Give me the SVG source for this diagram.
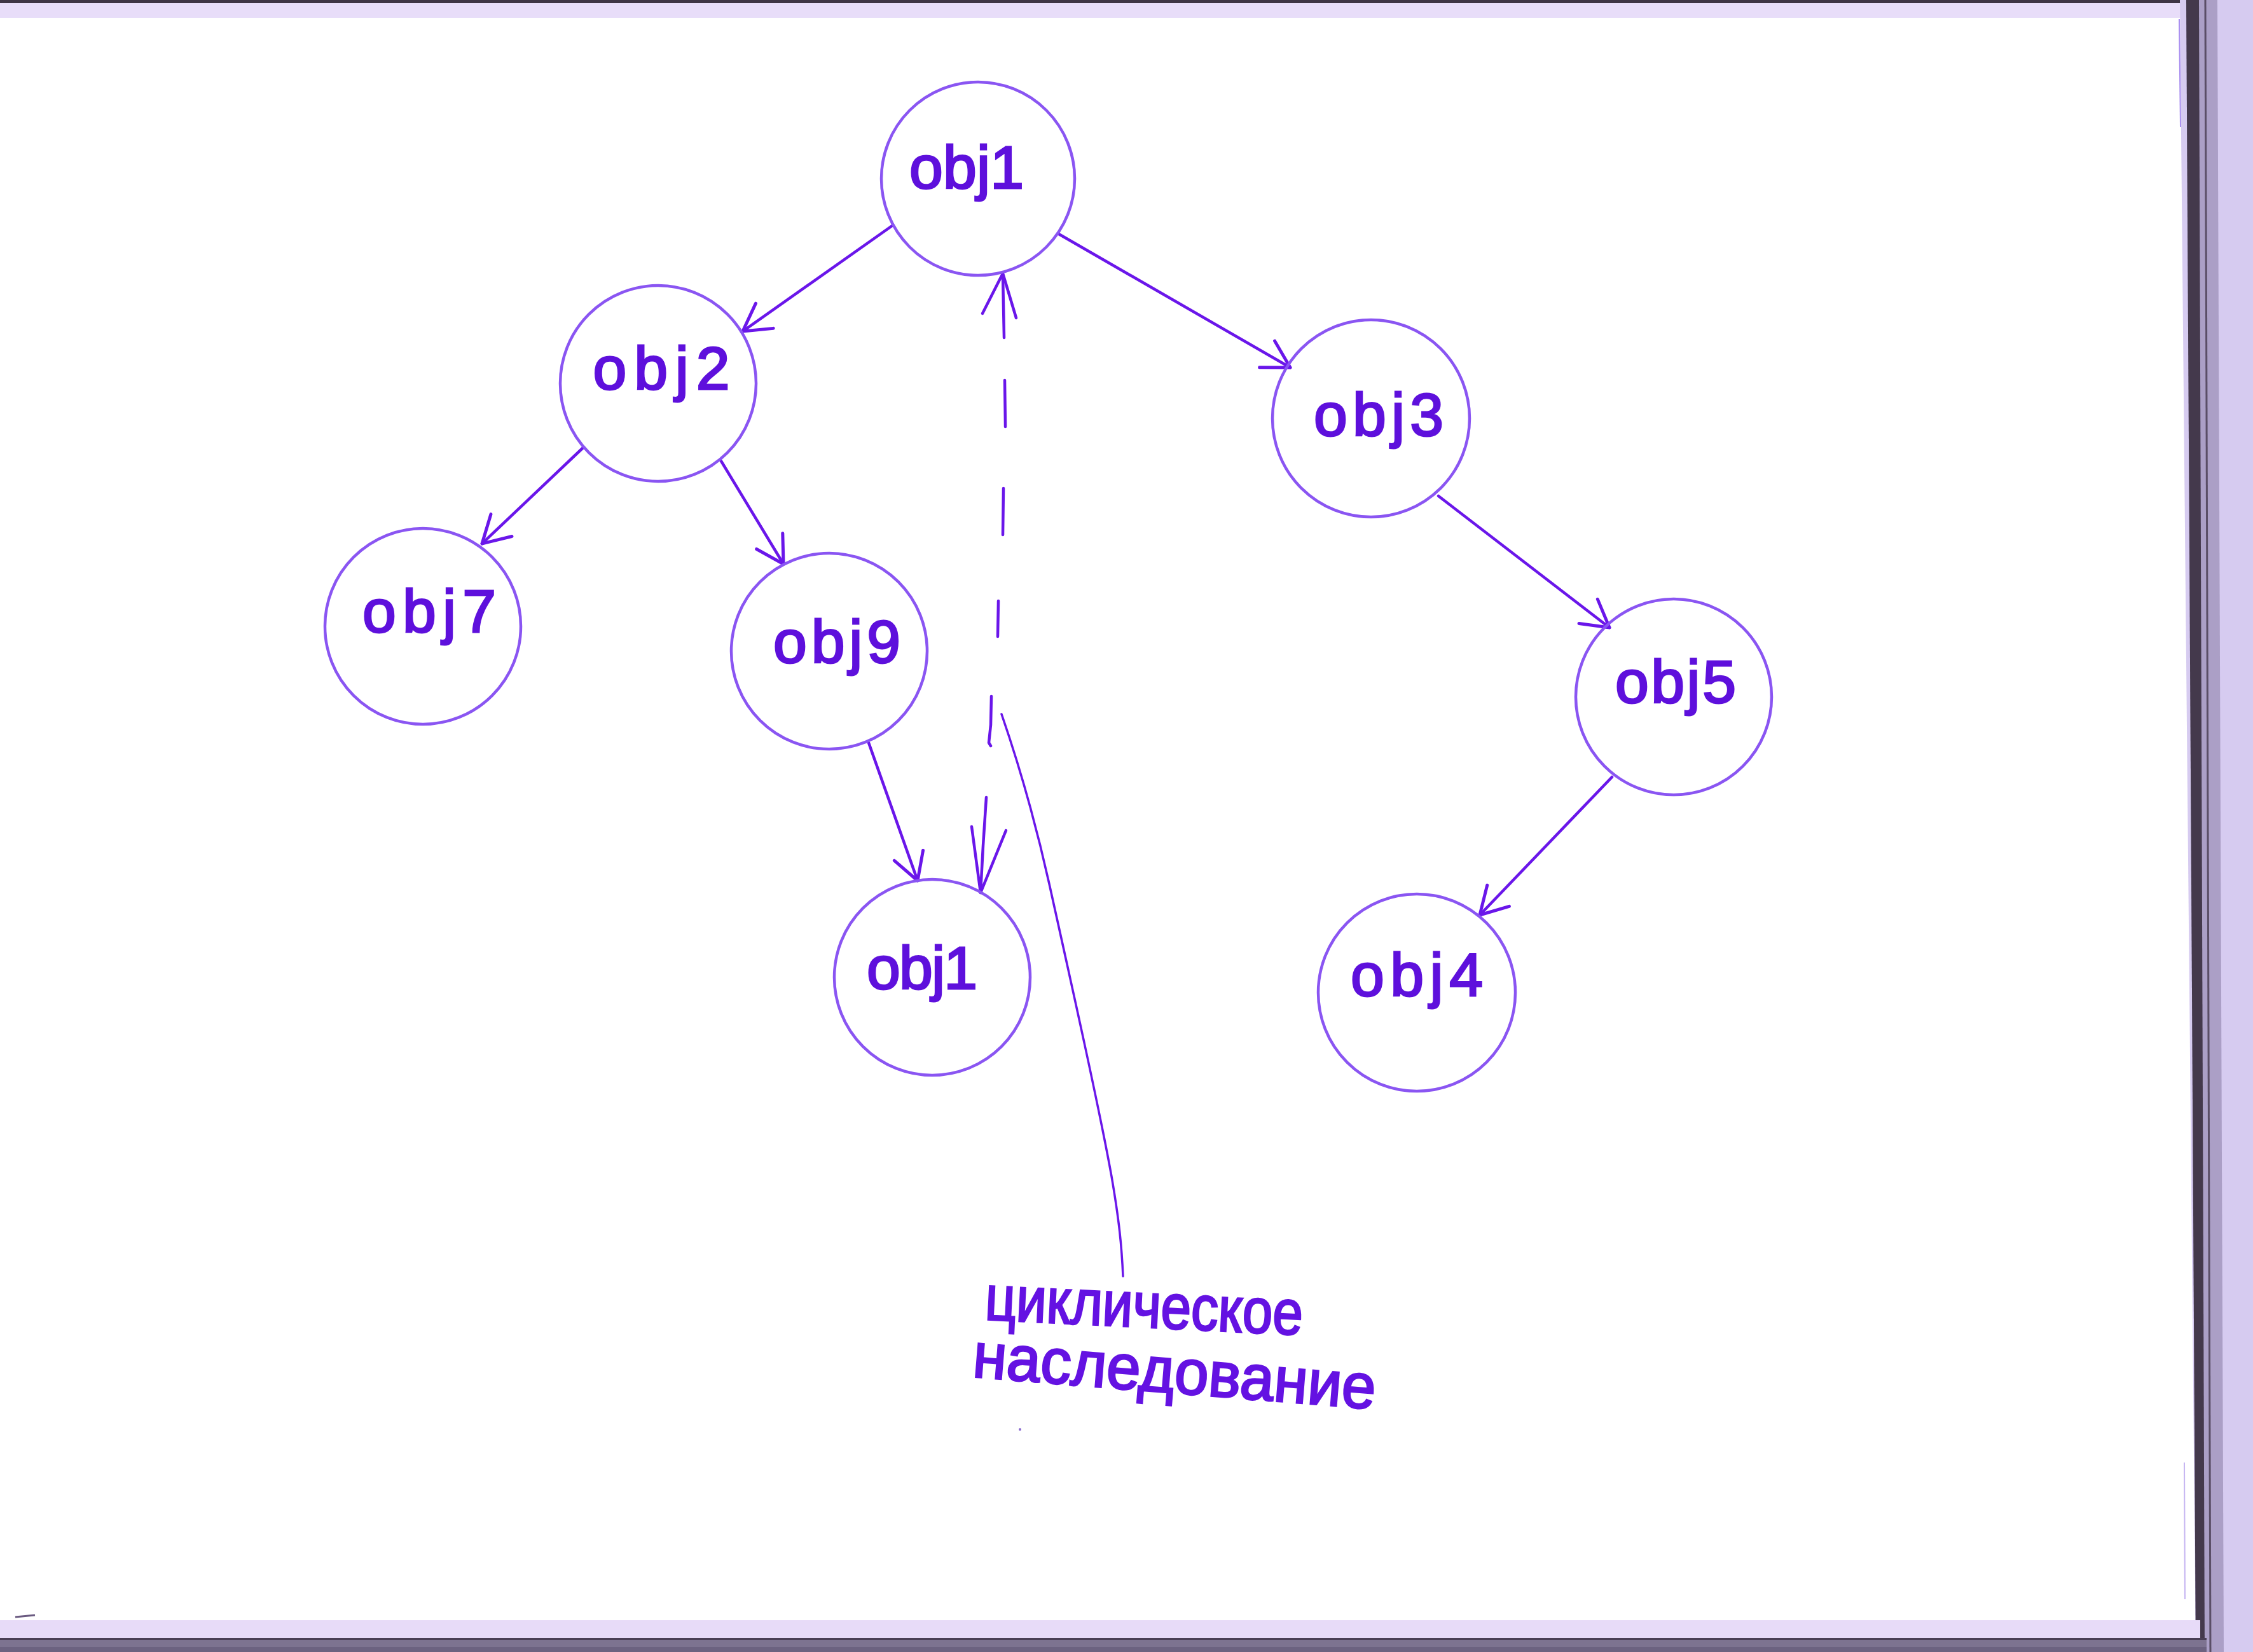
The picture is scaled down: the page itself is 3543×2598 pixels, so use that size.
<svg xmlns="http://www.w3.org/2000/svg" width="3543" height="2598" viewBox="0 0 3543 2598">
<style>
.node circle{fill:none;stroke:#8a55f2;stroke-width:4.5}
.node text{font-family:"Liberation Sans","DejaVu Sans",sans-serif;font-size:95px;fill:#5e10dc;stroke:#5e10dc;stroke-width:3;text-anchor:middle}
.edge{fill:none;stroke:#6a16ea;stroke-width:4.5;stroke-linecap:round;stroke-linejoin:round}
.note{font-family:"Liberation Sans","DejaVu Sans",sans-serif;font-size:100px;fill:#6412e2;stroke:#6412e2;stroke-width:3}
</style>
<defs>
<marker id="arr" markerUnits="userSpaceOnUse" markerWidth="70" markerHeight="70" viewBox="-60 -35 70 70" refX="0" refY="0" orient="auto" overflow="visible">
<path d="M -42 -24 L 0 0 L -42 24" fill="none" stroke="#6a16ea" stroke-width="5" stroke-linecap="round" stroke-linejoin="round"/>
</marker>
</defs>
<g id="background">
<rect x="0" y="0" width="3543" height="2598" fill="#ffffff"/>
<rect x="0" y="0" width="3543" height="28" fill="#e8ddf9"/>
<rect x="0" y="0" width="3543" height="5" fill="#3f3545"/>
<polygon points="3428,0 3543,0 3543,2598 3453,2598" fill="#d6cbf0"/>
<polygon points="3438,0 3487,0 3497,2598 3453,2598" fill="#ab9fc6"/>
<polygon points="3438,0 3458,0 3467,2598 3453,2598" fill="#44394c"/>
<line x1="3468" y1="0" x2="3476" y2="2598" stroke="#5a4e66" stroke-width="3"/>
<rect x="0" y="2548" width="3460" height="30" fill="#e7dbf8"/>
<rect x="0" y="2576" width="3470" height="22" fill="#7d7390"/>
<rect x="0" y="2576" width="3470" height="3" fill="#4a3f55"/>
<rect x="0" y="2590" width="3470" height="8" fill="#6c6280"/>
<line x1="3427" y1="30" x2="3429" y2="200" stroke="#a98ef0" stroke-width="2"/>
<line x1="3435" y1="2300" x2="3436" y2="2515" stroke="#c6b6f2" stroke-width="2"/>
<line x1="24" y1="2543" x2="55" y2="2540" stroke="#6a5a80" stroke-width="3"/>
</g>
<g id="connectors">
<path class="edge" d="M1403,355 L1168,521" marker-end="url(#arr)"/>
<path class="edge" d="M1665,368 L2029,578" marker-end="url(#arr)"/>
<path class="edge" d="M917,704 L758,855" marker-end="url(#arr)"/>
<path class="edge" d="M1134,725 L1232,887" marker-end="url(#arr)"/>
<path class="edge" d="M2262,780 L2531,987" marker-end="url(#arr)"/>
<path class="edge" d="M1366,1168 L1443,1385" marker-end="url(#arr)"/>
<path class="edge" d="M2535,1222 L2327,1439" marker-end="url(#arr)"/>
<g id="cyclic-link">
<path class="edge" d="M1579,531 L1577,432"/>
<path class="edge" d="M1545,493 L1577,430 L1598,500"/>
<path class="edge" d="M1580,598 L1581,671 M1578,768 L1577,841 M1570,945 L1569,1001 M1559,1095 L1558,1140 L1555,1168 L1558,1173 M1551,1254 L1546,1330 L1542,1404"/>
<path class="edge" d="M1528,1300 L1542,1404 L1582,1306"/>
<path class="edge" style="stroke-width:3.5" d="M1575,1123 C1605,1210 1630,1300 1650,1390 C1690,1570 1730,1750 1748,1850 C1760,1920 1764,1960 1766,2007"/>
</g>
</g>
<g id="node-obj1-top" class="node">
<circle cx="1538" cy="281" r="152"/>
<text x="1520" y="296" textLength="180" lengthAdjust="spacing">obj1</text>
</g>
<g id="node-obj2" class="node">
<circle cx="1035" cy="603" r="154"/>
<text x="1040" y="612" textLength="215" lengthAdjust="spacing">obj2</text>
</g>
<g id="node-obj3" class="node">
<circle cx="2156" cy="658" r="155"/>
<text x="2168" y="685" textLength="204" lengthAdjust="spacing">obj3</text>
</g>
<g id="node-obj7" class="node">
<circle cx="665" cy="985" r="154"/>
<text x="675" y="994" textLength="210" lengthAdjust="spacing">obj7</text>
</g>
<g id="node-obj9" class="node">
<circle cx="1304" cy="1024" r="154"/>
<text x="1316" y="1042" textLength="200" lengthAdjust="spacing">obj9</text>
</g>
<g id="node-obj5" class="node">
<circle cx="2632" cy="1096" r="154"/>
<text x="2635" y="1105" textLength="190" lengthAdjust="spacing">obj5</text>
</g>
<g id="node-obj1-bottom" class="node">
<circle cx="1466" cy="1537" r="154"/>
<text x="1450" y="1555" textLength="174" lengthAdjust="spacing">obj1</text>
</g>
<g id="node-obj4" class="node">
<circle cx="2228" cy="1561" r="155"/>
<text x="2228" y="1566" textLength="208" lengthAdjust="spacing">obj4</text>
</g>
<g id="annotation">
<text class="note" transform="rotate(2.8 1548 2075)" x="1548" y="2075" textLength="500" lengthAdjust="spacingAndGlyphs">циклическое</text>
<text class="note" transform="rotate(4.6 1528 2165)" x="1528" y="2165" textLength="635" lengthAdjust="spacingAndGlyphs">наследование</text>
<circle cx="1604" cy="2248" r="2" fill="#8a6ad0"/>
</g>
</svg>
